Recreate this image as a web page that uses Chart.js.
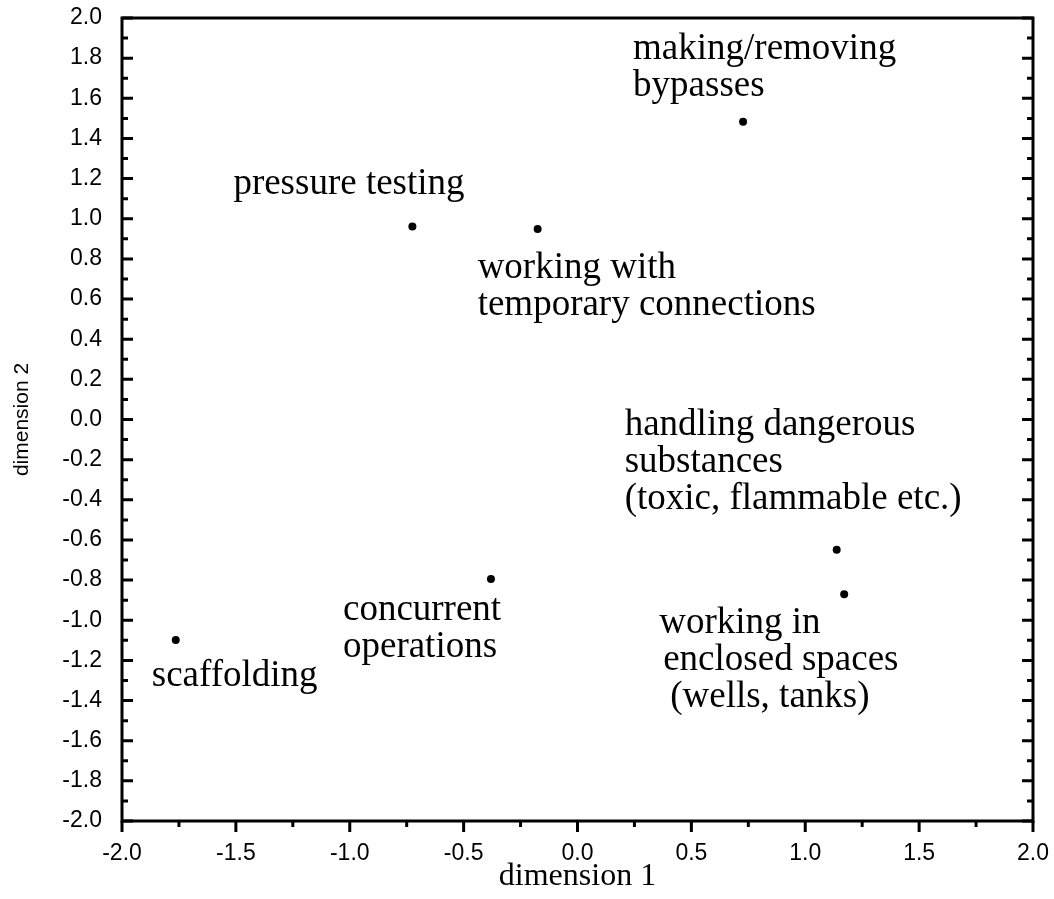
<!DOCTYPE html>
<html>
<head>
<meta charset="utf-8">
<script src="https://cdn.jsdelivr.net/npm/chart.js@4/dist/chart.umd.min.js"></script>
<style>
  html, body { margin: 0; padding: 0; background: #ffffff; }
  #wrap { width: 1054px; height: 899px; position: relative; }
</style>
</head>
<body>
<div id="wrap"><canvas id="c" width="1054" height="899"></canvas></div>
<script>
// ---- data ----
const pointNames = [
  ["making/removing", "bypasses"],
  ["pressure testing"],
  ["working with", "temporary connections"],
  ["handling dangerous", "substances", "(toxic, flammable etc.)"],
  ["working in", "enclosed spaces", "(wells, tanks)"],
  ["concurrent", "operations"],
  ["scaffolding"]
];
const dim1 = [0.727, -0.725, -0.175, 1.138, 1.171, -0.380, -1.764];
const dim2 = [1.483, 0.962, 0.949, -0.649, -0.870, -0.794, -1.098];
const xTitle = "dimension 1";
const yTitle = "dimension 2";

// ---- label placement (pixel offsets from each point: left edge, first baseline; per-line extra indent) ----
const labelOffsets = [
  {dx: -110, dy: -63, indent: [0, 0]},
  {dx: -179, dy: -32, indent: [0]},
  {dx: -60,  dy: 49,  indent: [0, 0]},
  {dx: -212, dy: -115, indent: [0, 0, 0]},
  {dx: -185, dy: 39,  indent: [0, 4, 11]},
  {dx: -148, dy: 41,  indent: [0, 0]},
  {dx: -24,  dy: 46,  indent: [0]}
];
const labelFont = "37px 'Liberation Serif', 'Times New Roman', serif";
const labelLineGap = 37;

const fmt = v => (Math.abs(v) < 1e-9 ? 0 : v).toFixed(1);

const framePlugin = {
  id: 'frame',
  afterDraw(chart) {
    const ctx = chart.ctx;
    const a = chart.chartArea;
    const xs = chart.scales.x, ys = chart.scales.y;
    ctx.save();
    ctx.strokeStyle = '#000';
    ctx.lineWidth = 3;
    ctx.lineCap = 'butt';
    ctx.beginPath();
    ctx.rect(a.left, a.top, a.right - a.left, a.bottom - a.top);
    ctx.stroke();
    const yt = ys.ticks.map(t => t.value);
    const drawY = (v, len) => {
      const p = ys.getPixelForValue(v);
      ctx.beginPath();
      ctx.moveTo(a.left, p); ctx.lineTo(a.left + len, p);
      ctx.moveTo(a.right, p); ctx.lineTo(a.right - len, p);
      ctx.stroke();
    };
    yt.forEach(v => drawY(v, 11));
    for (let i = 0; i < yt.length - 1; i++) drawY((yt[i] + yt[i + 1]) / 2, 6);
    const xt = xs.ticks.map(t => t.value);
    const drawX = (v, len) => {
      const p = xs.getPixelForValue(v);
      ctx.beginPath();
      ctx.moveTo(p, a.bottom); ctx.lineTo(p, a.bottom + len);
      ctx.stroke();
    };
    xt.forEach(v => drawX(v, 11));
    for (let i = 0; i < xt.length - 1; i++) drawX((xt[i] + xt[i + 1]) / 2, 6);
    ctx.restore();
  },
  afterDatasetsDraw(chart) {
    const ctx = chart.ctx;
    const meta = chart.getDatasetMeta(0);
    ctx.save();
    ctx.fillStyle = '#000';
    ctx.font = labelFont;
    ctx.textAlign = 'left';
    ctx.textBaseline = 'alphabetic';
    meta.data.forEach((el, i) => {
      const off = labelOffsets[i];
      pointNames[i].forEach((line, j) => {
        ctx.fillText(line, el.x + off.dx + (off.indent[j] || 0), el.y + off.dy + j * labelLineGap);
      });
    });
    ctx.restore();
  }
};

new Chart(document.getElementById('c'), {
  type: 'scatter',
  data: {
    datasets: [{
      data: dim1.map((x, i) => ({x: x, y: dim2[i]})),
      backgroundColor: '#000',
      borderWidth: 0,
      pointRadius: 4,
      pointHoverRadius: 4
    }]
  },
  plugins: [framePlugin],
  options: {
    responsive: false,
    animation: false,
    events: [],
    layout: { padding: { top: 18, right: 21, left: 0, bottom: 0 } },
    plugins: { legend: { display: false }, tooltip: { enabled: false }, title: { display: false } },
    scales: {
      x: {
        type: 'linear', min: -2, max: 2,
        afterFit(s) { s.height = 78; s.paddingLeft = 0; s.paddingRight = 0; },
        grid: { display: false, drawTicks: false },
        border: { display: false },
        ticks: { stepSize: 0.5, callback: fmt, color: '#000', padding: 19,
                 font: { family: "'Liberation Sans', Arial, sans-serif", size: 23 }, maxRotation: 0 },
        title: { display: true, text: xTitle, color: '#000',
                 font: { family: "'Liberation Serif', 'Times New Roman', serif", size: 32 },
                 padding: { top: 0, bottom: 3 } }
      },
      y: {
        type: 'linear', min: -2, max: 2,
        afterFit(s) { s.width = 122; s.paddingTop = 0; s.paddingBottom = 0; },
        grid: { display: false, drawTicks: false },
        border: { display: false },
        ticks: { stepSize: 0.2, callback: fmt, color: '#000', padding: 20,
                 font: { family: "'Liberation Sans', Arial, sans-serif", size: 23 } },
        title: { display: true, text: yTitle, color: '#000',
                 font: { family: "'Liberation Sans', Arial, sans-serif", size: 21 },
                 padding: { top: 10, bottom: 0 } }
      }
    }
  }
});
</script>
</body>
</html>
